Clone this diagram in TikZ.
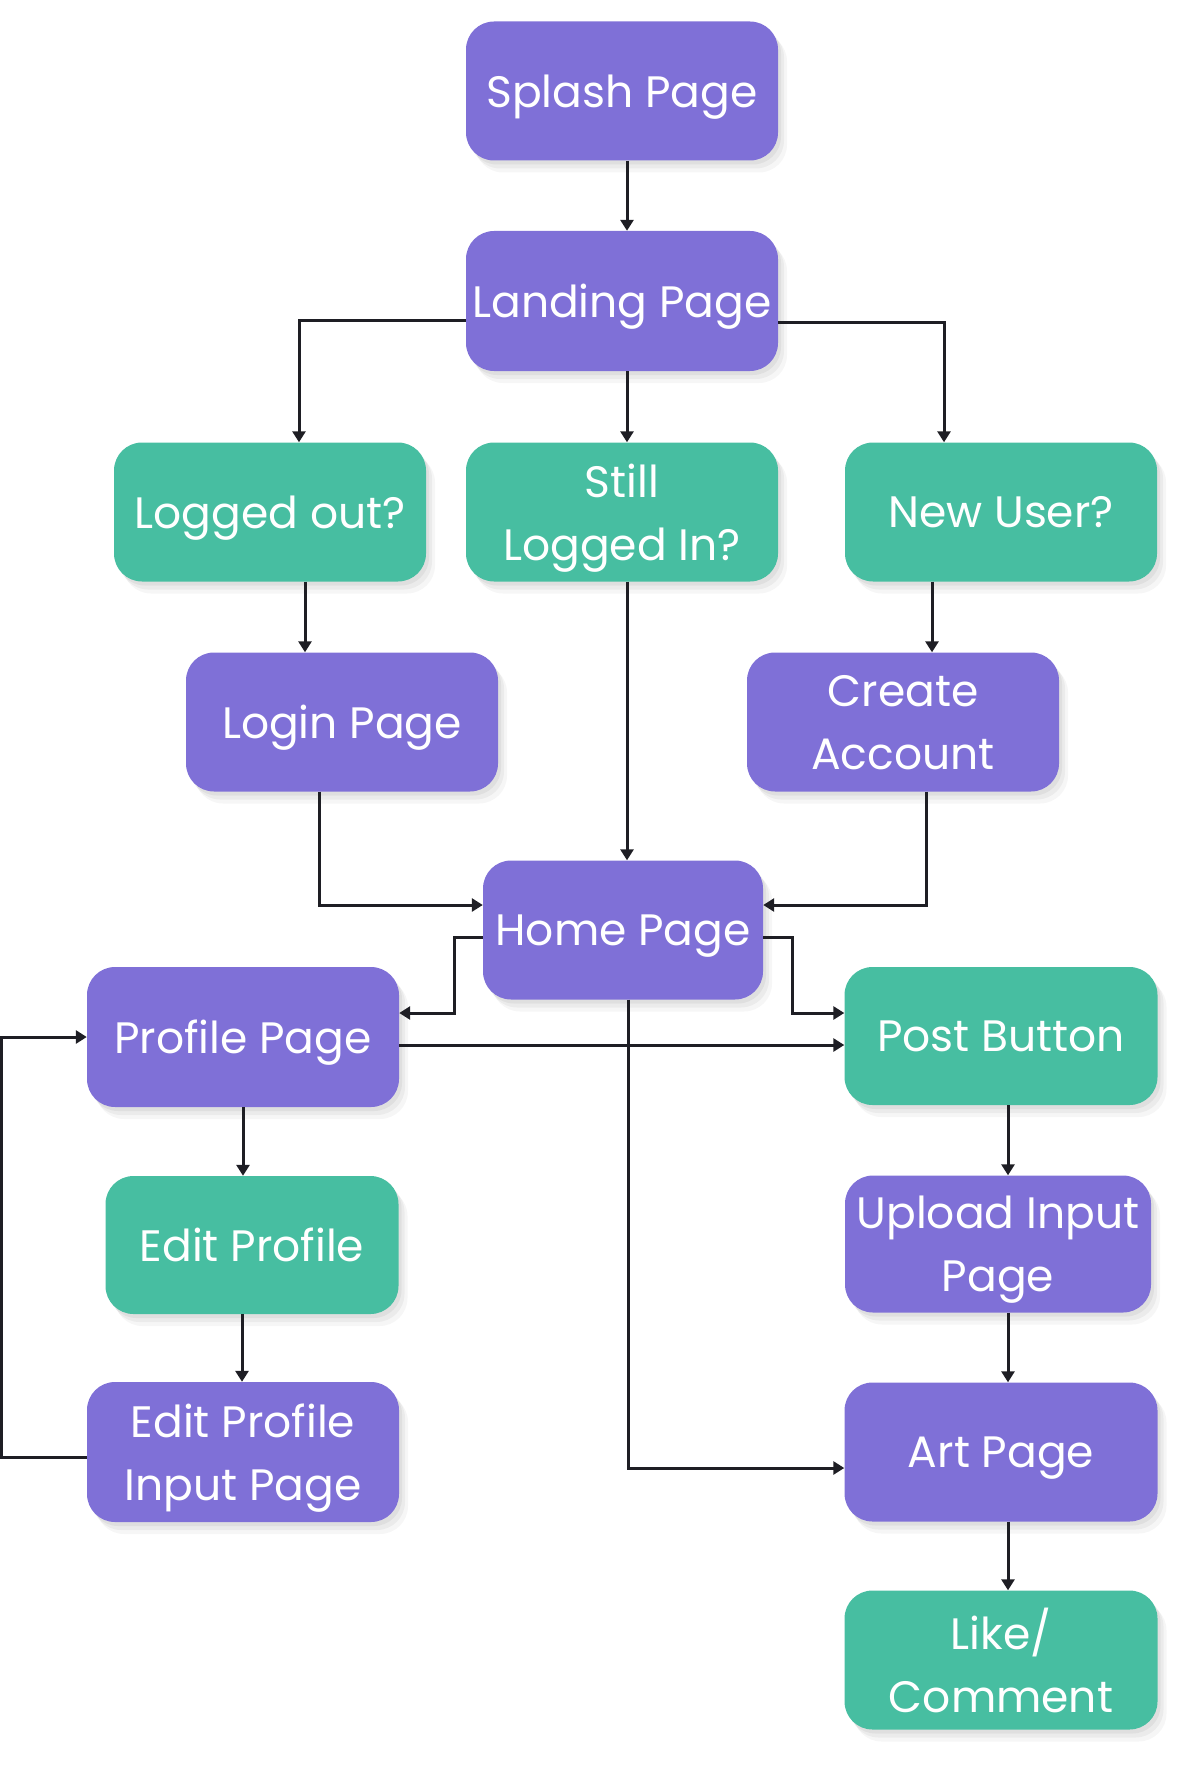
\documentclass[tikz,border=0pt]{standalone}
\usepackage{fontspec}
\setmainfont{Poppins}
\usepackage{tikz}
\usetikzlibrary{arrows.meta, shadows}

\definecolor{pagepurple}{HTML}{7F70D7}
\definecolor{stepgreen}{HTML}{47BEA1}
\definecolor{linedark}{HTML}{1E1E24}

\tikzset{
  box/.style={rounded corners=28pt, minimum width=312pt, minimum height=139pt,
    text=white, align=center, inner sep=0pt, text depth=0pt,
    font=\fontsize{44}{63}\selectfont,
    drop shadow={shadow xshift=9pt, shadow yshift=-12pt, opacity=0.035, fill=black},
    drop shadow={shadow xshift=6pt, shadow yshift=-8pt, opacity=0.045, fill=black},
    drop shadow={shadow xshift=3pt, shadow yshift=-4pt, opacity=0.05, fill=black}},
  pagebox/.style={box, fill=pagepurple},
  stepbox/.style={box, fill=stepgreen},
  arr/.style={draw=linedark, line width=3pt, -{Triangle[length=11pt,width=13pt]}}
}

\begin{document}
\begin{tikzpicture}[x=1pt, y=-1pt]
\useasboundingbox (0,0) rectangle (1201,1771);

% top of the flow
\node (splash) [pagebox] at (622, 91) {Splash Page};
\node (landing) [pagebox, minimum height=140pt] at (622, 301) {Landing Page};

% user state
\node (loggedout) [stepbox] at (270, 512) {Logged out?};
\node (still) [stepbox] at (622, 512) {Still\\Logged In?};
\node (newuser) [stepbox] at (1001, 512) {New User?};

% entry pages
\node (login) [pagebox] at (342, 722) {Login Page};
\node (create) [pagebox] at (903, 722) {Create\\Account};
\node (home) [pagebox, minimum width=280pt] at (623, 930) {Home Page};

% left branch
\node (profile) [pagebox, minimum height=140pt] at (243, 1037) {Profile Page};
\node (editprof) [stepbox, minimum width=293pt, minimum height=138pt] at (252, 1245) {Edit Profile};
\node (editinput) [pagebox, minimum height=140pt] at (243, 1452) {Edit Profile\\Input Page};

% right branch
\node (post) [stepbox, minimum width=313pt, minimum height=138pt] at (1001, 1036) {Post Button};
\node (upload) [pagebox, minimum width=306pt, minimum height=137pt] at (998, 1244) {Upload Input\\Page};
\node (art) [pagebox, minimum width=313pt] at (1001, 1452) {Art Page};
\node (like) [stepbox, minimum width=313pt] at (1001, 1660) {Like/\\Comment};

% connectors
\draw[arr] ([xshift=5pt]splash.south) -- ([xshift=5pt]landing.north);
\draw[arr] ([yshift=-19pt]landing.west) -| ([xshift=29pt]loggedout.north);
\draw[arr] ([yshift=-21pt]landing.east) -| ([xshift=-57pt]newuser.north);
\draw[arr] ([xshift=5pt]landing.south) -- ([xshift=5pt]still.north);
\draw[arr] ([xshift=35pt]loggedout.south) -- ([xshift=35pt]loggedout.south |- login.north);
\draw[arr] ([xshift=-69pt]newuser.south) -- ([xshift=-69pt]newuser.south |- create.north);
\draw[arr] ([xshift=5pt]still.south) -- ([xshift=5pt]still.south |- home.north);
\draw[arr] ([xshift=-23pt]login.south) |- ([yshift=25pt]home.west);
\draw[arr] ([xshift=23pt]create.south) |- ([yshift=25pt]home.east);
\draw[arr] ([yshift=-7pt]home.west) -- ++(-28,0) |- ([yshift=24pt]profile.east);
\draw[arr] ([yshift=-7pt]home.east) -- ++(29,0) |- ([yshift=23pt]post.west);
\draw[arr] ([yshift=-8pt]profile.east) -- ([yshift=-8pt]profile.east -| post.west);
\draw[arr] ([xshift=5pt]home.south) |- ([yshift=-16pt]art.west);
\draw[arr] (profile.south) -- (profile.south |- editprof.north);
\draw[arr] ([xshift=-10pt]editprof.south) -- ([xshift=-10pt]editprof.south |- editinput.north);
\draw[arr] ([yshift=-5pt]editinput.west) -- ++(-85,0) |- (profile.west);
\draw[arr] ([xshift=7pt]post.south) -- ([xshift=7pt]post.south |- upload.north);
\draw[arr] ([xshift=10pt]upload.south) -- ([xshift=10pt]upload.south |- art.north);
\draw[arr] ([xshift=7pt]art.south) -- ([xshift=7pt]art.south |- like.north);

\end{tikzpicture}
\end{document}
